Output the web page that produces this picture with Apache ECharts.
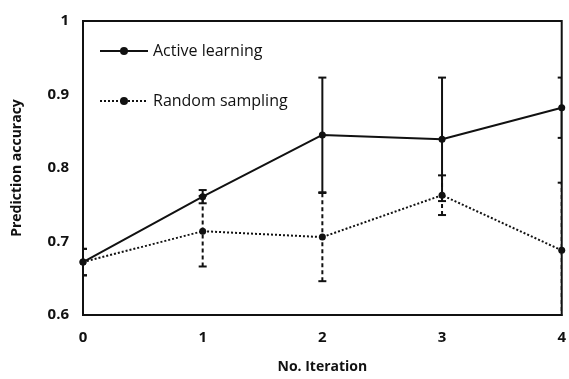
<!DOCTYPE html>
<html><head><meta charset="utf-8">
<script src="https://cdn.jsdelivr.net/npm/echarts@6/dist/echarts.min.js"></script>
<style>html,body{margin:0;padding:0;background:#fff}#c{width:569px;height:379px}</style>
</head><body><div id="c"></div>
<script>
var iterations = [0, 1, 2, 3, 4];
var activeMean = [0.672, 0.761, 0.845, 0.839, 0.882];
var activeErr = [0.018, 0.009, 0.078, 0.084, 0.041];
var randomMean = [0.672, 0.714, 0.706, 0.763, 0.688];
var randomErr = [0.018, 0.048, 0.060, 0.027, 0.092];
var yTicks = [0.6, 0.7, 0.8, 0.9, 1];

function pairs(xs, ys) { return xs.map(function (x, i) { return [x, ys[i]]; }); }
function errData(xs, m, e) { return xs.map(function (x, i) { return [x, m[i] - e[i], m[i] + e[i]]; }); }
function errRender(dash) {
  return function (params, api) {
    var x = api.value(0), lo = api.coord([x, api.value(1)]), hi = api.coord([x, api.value(2)]);
    var w = 4;
    var cs = params.coordSys;
    var right = cs.x + cs.width;
    var st = { stroke: '#111', lineWidth: 2, lineDash: dash };
    var cap = { stroke: '#111', lineWidth: 2 };
    return { type: 'group', children: [
      { type: 'line', shape: { x1: lo[0], y1: lo[1], x2: hi[0], y2: hi[1] }, style: st },
      { type: 'line', shape: { x1: lo[0] - w, y1: lo[1], x2: Math.min(lo[0] + w, right), y2: lo[1] }, style: cap },
      { type: 'line', shape: { x1: hi[0] - w, y1: hi[1], x2: Math.min(hi[0] + w, right), y2: hi[1] }, style: cap }
    ]};
  };
}
var chart = echarts.init(document.getElementById('c'), null, { renderer: 'canvas' });
var font = '"Open Sans", "Noto Sans", sans-serif';
chart.setOption({
  animation: false,
  backgroundColor: '#fff',
  grid: { left: 83, right: 5, top: 21, bottom: 63, show: true, borderColor: '#111', borderWidth: 2, backgroundColor: 'transparent' },
  legend: {
    orient: 'vertical', left: 94, top: 38, itemGap: 34, itemWidth: 48, itemHeight: 10,
    textStyle: { fontFamily: font, fontSize: 16, color: '#111' },
    data: ['Active learning', 'Random sampling']
  },
  xAxis: {
    type: 'value', min: 0, max: 4, interval: 1,
    name: 'No. Iteration', nameLocation: 'middle', nameGap: 45,
    nameTextStyle: { fontFamily: font, fontSize: 14, fontWeight: 'bold', color: '#111' },
    axisLine: { show: true, lineStyle: { color: '#111', width: 2 } },
    axisTick: { show: false }, splitLine: { show: false },
    axisLabel: { fontFamily: font, fontSize: 15, fontWeight: 'bold', color: '#111', margin: 15 }
  },
  yAxis: {
    type: 'value', min: 0.6, max: 1, interval: 0.1,
    name: 'Prediction accuracy', nameLocation: 'middle', nameGap: 59,
    nameTextStyle: { fontFamily: font, fontSize: 14, fontWeight: 'bold', color: '#111' },
    axisLine: { show: true, lineStyle: { color: '#111', width: 2 } },
    axisTick: { show: false }, splitLine: { show: false },
    axisLabel: { fontFamily: font, fontSize: 15, fontWeight: 'bold', color: '#111', margin: 14,
      formatter: function (v) { var r = Math.round(v * 10) / 10; return yTicks.indexOf(r) >= 0 ? String(r) : ''; } }
  },
  series: [
    { type: 'custom', name: 'errA', renderItem: errRender(null), data: errData(iterations, activeMean, activeErr), clip: true, silent: true, z: 3 },
    { type: 'custom', name: 'errR', renderItem: errRender([4, 3]), data: errData(iterations, randomMean, randomErr), clip: true, silent: true, z: 3 },
    { type: 'line', name: 'Active learning', data: pairs(iterations, activeMean), symbol: 'circle', symbolSize: 7,
      itemStyle: { color: '#111' }, lineStyle: { color: '#111', width: 2, type: 'solid' }, z: 5 },
    { type: 'line', name: 'Random sampling', data: pairs(iterations, randomMean), symbol: 'circle', symbolSize: 7,
      itemStyle: { color: '#111' }, lineStyle: { color: '#111', width: 2, type: [2, 2] }, z: 4 }
  ]
});
</script></body></html>
